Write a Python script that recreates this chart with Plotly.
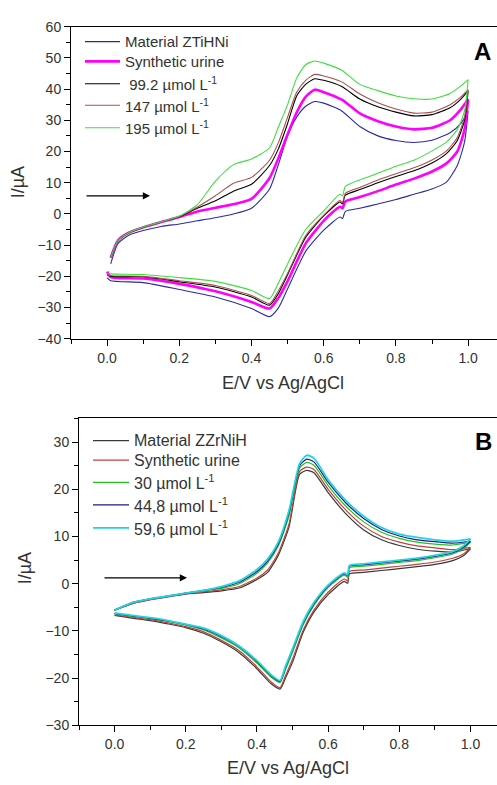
import plotly.graph_objects as go

W, H = 497, 785

# ---------------- Panel A data ----------------
E_A_FWD = [0.01, 0.03, 0.06, 0.1, 0.15, 0.2, 0.25, 0.3, 0.35, 0.4, 0.45, 0.475, 0.5, 0.525,
           0.55, 0.575, 0.6, 0.65, 0.7, 0.75, 0.8, 0.85, 0.9, 0.95, 0.98, 1.0]
E_A_REV = [1.0, 0.99, 0.97, 0.94, 0.9, 0.85, 0.8, 0.75, 0.7, 0.66, 0.652, 0.645, 0.6, 0.55,
           0.5, 0.475, 0.45, 0.4, 0.3, 0.2, 0.1, 0.01, 0.0]

A_MAT_FWD = [-16.0, -9.5, -6.8, -5.3, -4.0, -3.2, -2.2, -1.2, 0.0, 1.8, 8.0, 16.0, 25.0, 31.0,
             34.5, 36.0, 35.5, 33.0, 28.0, 25.0, 23.5, 22.9, 23.6, 26.0, 29.0, 33.0]
A_MAT_REV = [33.0, 23.0, 15.5, 10.2, 8.0, 6.3, 4.6, 3.2, 1.8, 0.8, -1.5, -1.0, -5.2, -12.0,
             -24.0, -30.0, -32.9, -30.3, -26.6, -24.2, -22.0, -21.4, -20.5]

A_URI_FWD = [-14.0, -8.5, -6.0, -4.3, -2.6, -1.0, 0.8, 2.0, 3.1, 4.8, 11.5, 18.0, 25.5, 32.5,
             37.5, 39.8, 39.0, 36.6, 32.2, 29.7, 28.0, 27.1, 27.6, 30.0, 33.5, 36.7]
A_URI_REV = [36.7, 27.0, 20.0, 16.2, 13.6, 11.3, 9.4, 7.3, 5.4, 4.0, 1.8, 2.3, -2.2, -9.5,
             -21.5, -26.8, -30.3, -28.2, -24.8, -22.4, -20.7, -20.2, -18.5]

A_C1_FWD = [-14.0, -8.5, -6.0, -4.3, -2.6, -0.9, 1.8, 4.2, 7.3, 9.5, 15.5, 21.0, 29.0, 37.8,
            41.5, 43.3, 42.8, 40.8, 36.8, 34.3, 32.6, 31.4, 31.8, 34.0, 36.8, 39.4]
A_C1_REV = [39.4, 30.0, 23.5, 19.3, 16.3, 13.8, 12.0, 10.0, 7.8, 6.0, 3.2, 3.8, -0.6, -7.5,
            -19.5, -25.4, -29.2, -26.6, -23.4, -21.7, -20.1, -20.0, -19.5]

A_C2_FWD = [-14.0, -8.5, -6.0, -4.3, -2.6, -0.8, 2.2, 5.8, 9.8, 11.7, 17.2, 23.0, 31.0, 39.0,
            42.8, 44.7, 44.2, 42.3, 38.4, 35.6, 33.6, 32.3, 32.6, 35.0, 37.5, 39.8]
A_C2_REV = [39.8, 31.0, 24.5, 20.2, 17.3, 14.8, 12.9, 10.9, 8.5, 6.6, 3.7, 4.3, -0.4, -7.0,
            -19.0, -24.5, -28.7, -26.1, -22.9, -21.4, -20.0, -19.8, -19.5]

A_C3_FWD = [-14.0, -8.5, -6.0, -4.2, -2.5, -0.7, 3.0, 10.5, 15.8, 17.6, 21.2, 28.0, 35.0, 43.5,
            47.8, 49.0, 48.3, 46.0, 41.5, 39.5, 37.8, 36.9, 36.8, 38.6, 41.0, 43.0]
A_C3_REV = [43.0, 33.0, 27.0, 23.0, 20.2, 17.2, 15.3, 13.0, 10.9, 8.8, 5.8, 6.3, 1.0, -5.0,
            -16.0, -22.0, -27.1, -24.5, -21.6, -20.4, -19.4, -19.2, -19.0]

A_NAMES = ["Material ZTiHNi", "Synthetic urine", " 99.2 µmol L<sup>-1</sup>",
           "147 µmol L<sup>-1</sup>", "195 µmol L<sup>-1</sup>"]
A_COLORS = ["#2a2aa8", "#ff00ff", "#000000", "#a85050", "#3ede3e"]
A_WIDTHS = [1.1, 2.6, 1.1, 1.1, 1.1]

# ---------------- Panel B data ----------------
E_B_FWD = [0.0, 0.05, 0.1, 0.15, 0.2, 0.25, 0.3, 0.35, 0.4, 0.43, 0.46, 0.49, 0.52, 0.54,
           0.56, 0.6, 0.65, 0.7, 0.75, 0.8, 0.85, 0.9, 0.95, 1.0]
E_B_REV = [1.0, 0.98, 0.95, 0.9, 0.85, 0.8, 0.75, 0.7, 0.66, 0.655, 0.645, 0.6, 0.56, 0.53,
           0.5, 0.48, 0.465, 0.44, 0.4, 0.35, 0.3, 0.25, 0.2, 0.15, 0.1, 0.05, 0.0]

B_MAT_FWD = [-5.6, -4.2, -3.4, -2.8, -2.2, -1.9, -1.5, -0.9, 0.9, 2.4, 6.0, 12.0, 23.2, 24.0,
             23.5, 19.3, 14.8, 11.4, 9.3, 8.1, 7.3, 6.9, 6.7, 7.4]
B_MAT_REV = [7.4, 5.9, 4.9, 4.1, 3.6, 3.2, 2.8, 2.4, 2.1, 0.1, 0.5, -2.3, -6.0, -10.3,
             -16.6, -20.0, -22.3, -21.2, -18.0, -14.6, -12.3, -10.5, -9.3, -8.5, -7.8, -7.3, -6.7]

B_URI_FWD = [-5.6, -4.2, -3.4, -2.7, -2.1, -1.7, -1.3, -0.6, 1.2, 2.9, 6.5, 12.6, 23.8, 24.7,
             24.2, 20.0, 15.6, 12.2, 10.0, 8.8, 8.0, 7.6, 7.2, 7.7]
B_URI_REV = [7.7, 6.3, 5.4, 4.6, 4.1, 3.7, 3.3, 2.9, 2.6, 0.6, 1.0, -1.8, -5.6, -9.8,
             -16.0, -19.5, -22.0, -20.8, -17.6, -14.2, -12.0, -10.2, -9.1, -8.3, -7.6, -7.1, -6.6]

B_C1_FWD = [-5.6, -4.0, -3.2, -2.6, -2.0, -1.5, -1.0, 0.0, 2.2, 4.4, 8.0, 14.3, 24.5, 25.7,
            25.1, 20.8, 16.4, 13.1, 10.9, 9.6, 8.8, 8.4, 8.2, 8.8]
B_C1_REV = [8.8, 7.4, 6.3, 5.5, 4.9, 4.5, 4.1, 3.7, 3.4, 1.4, 1.8, -0.8, -4.6, -8.7,
            -14.5, -18.2, -20.9, -19.8, -16.8, -13.6, -11.5, -9.8, -8.8, -8.0, -7.4, -6.9, -6.4]

B_C2_FWD = [-5.6, -4.0, -3.2, -2.6, -2.0, -1.4, -0.8, 0.3, 2.6, 4.8, 8.4, 15.0, 25.0, 26.4,
            25.8, 21.5, 17.1, 13.8, 11.5, 10.1, 9.3, 8.9, 8.6, 9.0]
B_C2_REV = [9.0, 7.7, 6.6, 5.8, 5.2, 4.8, 4.4, 4.0, 3.7, 1.7, 2.1, -0.5, -4.3, -8.3,
            -14.0, -17.8, -20.7, -19.5, -16.5, -13.3, -11.2, -9.6, -8.6, -7.9, -7.3, -6.8, -6.3]

B_C3_FWD = [-5.6, -4.0, -3.2, -2.6, -2.0, -1.4, -0.6, 0.6, 3.0, 5.2, 8.8, 15.5, 25.5, 27.2,
            26.6, 22.0, 17.6, 14.3, 11.9, 10.5, 9.8, 9.3, 9.0, 9.5]
B_C3_REV = [9.5, 8.0, 6.8, 6.0, 5.4, 5.0, 4.6, 4.2, 3.9, 1.9, 2.3, -0.3, -4.0, -8.0,
            -13.8, -17.5, -20.5, -19.3, -16.3, -13.2, -11.0, -9.4, -8.6, -7.8, -7.2, -6.7, -6.2]

B_NAMES = ["Material ZZrNiH", "Synthetic urine", "30 µmol L<sup>-1</sup>",
           "44,8 µmol L<sup>-1</sup>", "59,6 µmol L<sup>-1</sup>"]
B_COLORS = ["#3a3a3a", "#c04040", "#22c022", "#1c1c78", "#22d2e6"]
B_WIDTHS = [1.2, 1.2, 1.2, 1.2, 1.8]

A_SERIES = [(A_MAT_FWD, A_MAT_REV), (A_URI_FWD, A_URI_REV), (A_C1_FWD, A_C1_REV),
            (A_C2_FWD, A_C2_REV), (A_C3_FWD, A_C3_REV)]
B_SERIES = [(B_MAT_FWD, B_MAT_REV), (B_URI_FWD, B_URI_REV), (B_C1_FWD, B_C1_REV),
            (B_C2_FWD, B_C2_REV), (B_C3_FWD, B_C3_REV)]


def px(x):
    return x / W


def py(y):
    return 1 - y / H


fig = go.Figure()

for (fwd, rev), name, col, w in zip(A_SERIES, A_NAMES, A_COLORS, A_WIDTHS):
    fig.add_trace(go.Scatter(x=E_A_FWD + E_A_REV, y=fwd + rev, mode="lines", name=name,
                             line=dict(color=col, width=w, shape="spline", smoothing=0.6),
                             xaxis="x", yaxis="y", showlegend=False))

for (fwd, rev), name, col, w in zip(B_SERIES, B_NAMES, B_COLORS, B_WIDTHS):
    fig.add_trace(go.Scatter(x=E_B_FWD + E_B_REV, y=fwd + rev, mode="lines", name=name,
                             line=dict(color=col, width=w, shape="spline", smoothing=0.6),
                             xaxis="x2", yaxis="y2", showlegend=False))

FONT = "Liberation Sans, Arial, sans-serif"
TXT = "#333333"


def xaxis(domain, rng, anchor):
    return dict(domain=domain, range=rng, anchor=anchor, showline=True, linecolor="#000",
                linewidth=1, mirror=True, ticks="outside", ticklen=6, tickcolor="#000",
                tick0=0, dtick=0.2, tickformat=".1f", showgrid=False, zeroline=False,
                tickfont=dict(family=FONT, size=14, color=TXT),
                minor=dict(ticks="outside", ticklen=4, dtick=0.1, tick0=0, tickcolor="#000"))


def yaxis(domain, rng, anchor):
    return dict(domain=domain, range=rng, anchor=anchor, showline=True, linecolor="#000",
                linewidth=1, mirror=False, ticks="outside", ticklen=6, tickcolor="#000",
                tick0=0, dtick=10, showgrid=False, zeroline=False,
                tickfont=dict(family=FONT, size=14, color=TXT),
                minor=dict(ticks="outside", ticklen=4, dtick=5, tick0=0, tickcolor="#000"))


fig.update_layout(
    width=W, height=H, margin=dict(l=0, r=0, t=0, b=0),
    paper_bgcolor="white", plot_bgcolor="white", showlegend=False,
    xaxis=xaxis([px(71), 1.0], [-0.1, 1.08], "y"),
    yaxis=yaxis([py(337.7), py(19)], [-40, 60], "x"),
    xaxis2=xaxis([px(79), 1.0], [-0.1, 1.0745], "y2"),
    yaxis2=yaxis([py(732.3), py(419)], [-30, 35], "x2"),
)

ann = []
shapes = []

# axis titles
ann.append(dict(text="E/V vs Ag/AgCl", x=px(283), y=py(383), xref="paper", yref="paper",
                showarrow=False, font=dict(family=FONT, size=18, color=TXT),
                xanchor="center", yanchor="middle"))
ann.append(dict(text="I/µA", x=px(18), y=py(178), xref="paper", yref="paper", textangle=-90,
                showarrow=False, font=dict(family=FONT, size=18, color=TXT),
                xanchor="center", yanchor="middle"))
ann.append(dict(text="E/V vs Ag/AgCl", x=px(288), y=py(776), xref="paper", yref="paper",
                showarrow=False, font=dict(family=FONT, size=18, color=TXT),
                xanchor="center", yanchor="middle"))
ann.append(dict(text="I/µA", x=px(25), y=py(572), xref="paper", yref="paper", textangle=-90,
                showarrow=False, font=dict(family=FONT, size=18, color=TXT),
                xanchor="center", yanchor="middle"))

# panel letters
ann.append(dict(text="<b>A</b>", x=px(482), y=py(44), xref="paper", yref="paper",
                showarrow=False, font=dict(family=FONT, size=24, color="#000"),
                xanchor="center", yanchor="middle"))
ann.append(dict(text="<b>B</b>", x=px(483), y=py(443), xref="paper", yref="paper",
                showarrow=False, font=dict(family=FONT, size=24, color="#000"),
                xanchor="center", yanchor="middle"))

# scan-direction arrows
ann.append(dict(x=px(150), y=py(191.7), ax=-65, ay=0, xref="paper", yref="paper",
                axref="pixel", ayref="pixel", showarrow=True, arrowhead=2, arrowsize=1.2,
                arrowwidth=1.2, arrowcolor="#000", text=""))
ann.append(dict(x=px(187), y=py(581.7), ax=-84, ay=0, xref="paper", yref="paper",
                axref="pixel", ayref="pixel", showarrow=True, arrowhead=2, arrowsize=1.2,
                arrowwidth=1.2, arrowcolor="#000", text=""))

# legends (manual)
A_ROWS = [34.3, 54.5, 77.3, 99.3, 122.3]
for yy, name, col, w in zip(A_ROWS, A_NAMES, A_COLORS, A_WIDTHS):
    shapes.append(dict(type="line", xref="paper", yref="paper", x0=px(85), x1=px(120),
                       y0=py(yy), y1=py(yy), line=dict(color=col, width=w)))
    ann.append(dict(text=name, x=px(123), y=py(yy), xref="paper", yref="paper",
                    showarrow=False, xanchor="left", yanchor="middle",
                    font=dict(family=FONT, size=15, color=TXT)))

B_ROWS = [441.7, 461.5, 484.3, 507.3, 530.7]
for yy, name, col, w in zip(B_ROWS, B_NAMES, B_COLORS, B_WIDTHS):
    shapes.append(dict(type="line", xref="paper", yref="paper", x0=px(93), x1=px(129),
                       y0=py(yy), y1=py(yy), line=dict(color=col, width=w)))
    ann.append(dict(text=name, x=px(132), y=py(yy), xref="paper", yref="paper",
                    showarrow=False, xanchor="left", yanchor="middle",
                    font=dict(family=FONT, size=16, color=TXT)))

fig.update_layout(annotations=ann, shapes=shapes)
fig.write_html("out.html")
